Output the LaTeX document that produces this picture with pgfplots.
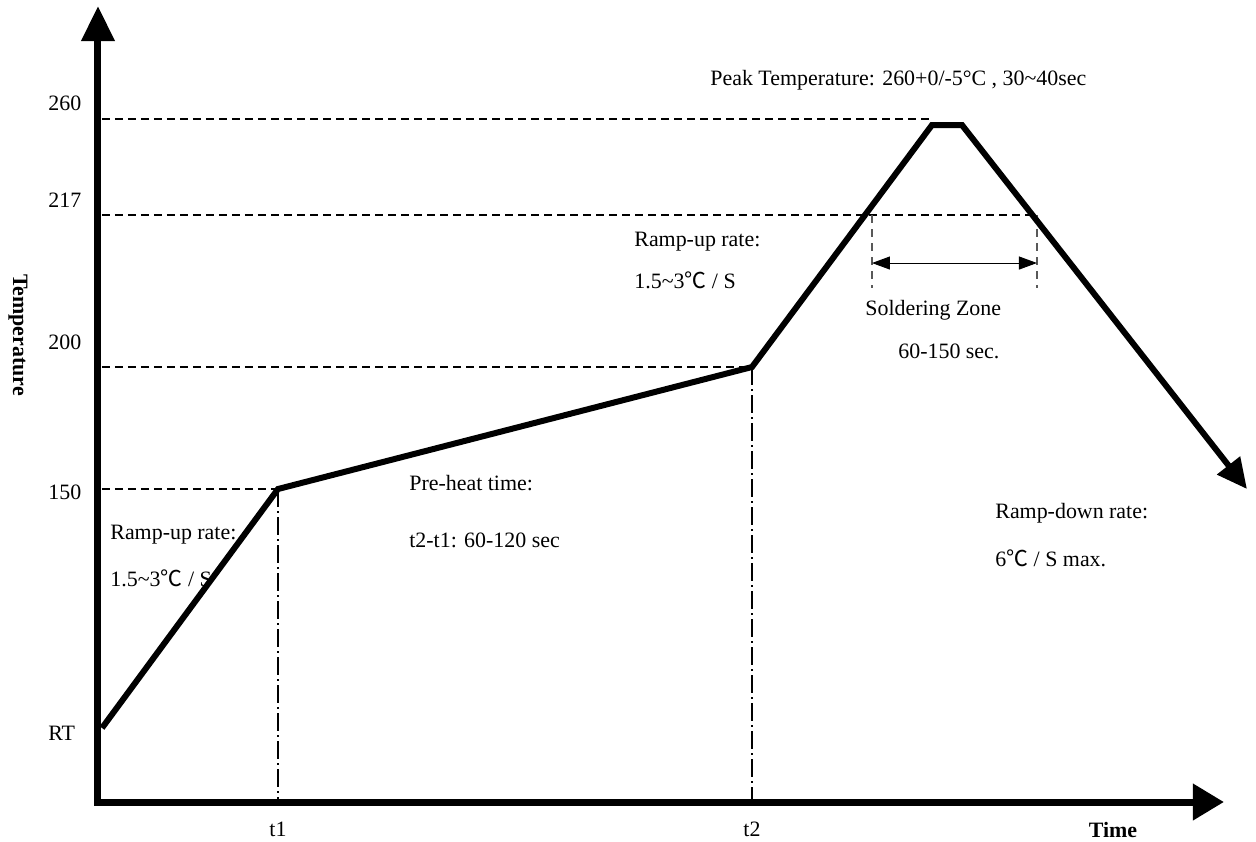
\documentclass[border=0pt]{standalone}
\usepackage{fontspec}
\setmainfont{Liberation Serif}
\newfontfamily\cjk{Noto Sans CJK SC}
\usepackage{pgfplots}
\pgfplotsset{compat=1.18}
\usetikzlibrary{arrows.meta}
\newcommand{\degc}{{\cjk ℃}}
\newcommand{\tld}{\textasciitilde}
\begin{document}
\begin{tikzpicture}[
    lbl/.style={font=\fontsize{11}{13}\selectfont, inner sep=0pt, anchor=west},
    dsh/.style={black, line width=0.7bp, dash pattern=on 4bp off 2.5bp},
    dd/.style={black, line width=0.6bp, dash pattern=on 9bp off 2bp on 1bp off 2bp},
    ]
\path[use as bounding box] (0,0) rectangle (628bp,421bp);
\begin{axis}[at={(0,0)}, anchor=south west,
             scale only axis, x=0.5bp, y=0.5bp, y dir=reverse,
             xmin=0, xmax=1256, ymin=0, ymax=842,
             hide axis, clip=false]
    % reference lines
    \addplot[dsh] coordinates {(102,119) (932,119)};
    \addplot[dsh] coordinates {(102,215) (1037,215)};
    \addplot[dsh] coordinates {(102,367) (750,367)};
    \addplot[dsh] coordinates {(102,489) (278,489)};
    \addplot[dd] coordinates {(278,489) (278,800)};
    \addplot[dd] coordinates {(752,367) (752,800)};
    % soldering zone
    \addplot[gray!70!black, line width=0.7bp, dash pattern=on 4bp off 3bp] coordinates {(872,215) (872,288)};
    \addplot[gray!70!black, line width=0.7bp, dash pattern=on 4bp off 3bp] coordinates {(1037,215) (1037,288)};
    \addplot[black, line width=0.5bp, {Triangle[length=9bp,width=6.5bp]}-{Triangle[length=9bp,width=6.5bp]}]
        coordinates {(872,263) (1037,263)};
    % profile
    \addplot[black, line width=3bp, line join=miter, -{Triangle[length=15bp,width=14bp]}]
        coordinates {(102,728) (278,489) (752,367) (932,125) (962,125) (1247,489)};
    % axes
    \addplot[black, line width=3.5bp, line join=miter,
             {Triangle[length=17.5bp,width=16bp]}-{Triangle[length=15.5bp,width=17.5bp]}]
        coordinates {(98,6) (98,802) (1224,802)};

    \node[lbl] at (48,103) {260};
    \node[lbl] at (48,200) {217};
    \node[lbl] at (48,342) {200};
    \node[lbl] at (48,492) {150};
    \node[lbl] at (48,733) {RT};
    \node[lbl, anchor=center] at (278,829) {t1};
    \node[lbl, anchor=center] at (752,829) {t2};
    \node[lbl, anchor=center, font=\fontsize{11}{13}\selectfont\bfseries] at (1113,830) {Time};
    \node[lbl, anchor=center, rotate=-90, font=\fontsize{11}{13}\selectfont\bfseries] at (18,335) {Temperature};

    \node[lbl] at (710,80) {Peak Temperature: 260+0/-5°C , 30\tld40sec};
    \node[lbl] at (634,242) {Ramp-up rate:};
    \node[lbl] at (634,280) {1.5\tld3\degc\ / S};
    \node[lbl] at (865,310) {Soldering Zone};
    \node[lbl] at (898,351) {60-150 sec.};
    \node[lbl] at (995,513) {Ramp-down rate:};
    \node[lbl] at (995,558) {6\degc\ / S max.};
    \node[lbl] at (409,483) {Pre-heat time:};
    \node[lbl] at (409,540) {t2-t1: 60-120 sec};
    \node[lbl] at (110,535) {Ramp-up rate:};
    \node[lbl] at (110,578) {1.5\tld3\degc\ / S};
\end{axis}
\end{tikzpicture}
\end{document}
